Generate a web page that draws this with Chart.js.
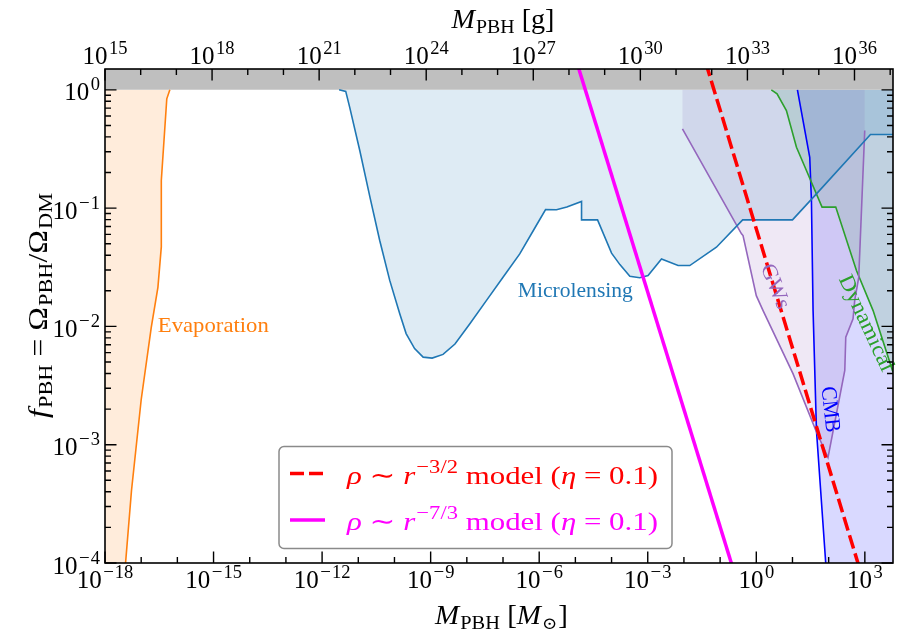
<!DOCTYPE html>
<html><head><meta charset="utf-8">
<script src="https://cdn.jsdelivr.net/npm/chart.js@4.4.0/dist/chart.umd.min.js"></script>
<style>html,body{margin:0;padding:0;background:#fff;}#wrap{width:898px;height:633px;}</style>
</head><body><div id="wrap"><canvas id="c" width="898" height="633"></canvas></div>
<script>
// ---------- data ----------
const xTicksMsun = [1e-18, 1e-15, 1e-12, 1e-9, 1e-6, 1e-3, 1, 1e3];
const xTickExpMsun = ['−18', '−15', '−12', '−9', '−6', '−3', '0', '3'];
const xTicksGram = [1e15, 1e18, 1e21, 1e24, 1e27, 1e30, 1e33, 1e36];
const xTickExpGram = ['15', '18', '21', '24', '27', '30', '33', '36'];
const yTicks = [1e-4, 1e-3, 1e-2, 1e-1, 1];
const yTickExp = ['−4', '−3', '−2', '−1', '0'];

// Evaporation bound
const evapM = [6.2e-17, 5.1e-17, 3.6e-17, 3.6e-17, 2.9e-17, 1.9e-17, 1.0e-17, 5.4e-18, 3.7e-18];
const evapF = [1, 0.84, 0.171, 0.047, 0.0214, 0.0098, 2.4e-3, 4.1e-4, 1e-4];

// Microlensing bound
const mlM = [2.95e-12, 4.5e-12, 5.8e-12, 1.1e-11, 2.1e-11, 3.9e-11, 7.4e-11, 1.4e-10, 2.1e-10, 3.6e-10,
  6.2e-10, 1.1e-9, 2.2e-9, 4.7e-9, 1.2e-8, 3.5e-8, 1.0e-7, 2.9e-7, 8.3e-7, 1.5e-6, 3.0e-6, 5.8e-6,
  1.48e-5, 1.48e-5, 4.1e-5, 1.0e-4, 1.7e-4, 3.2e-4, 6.0e-4, 1.02e-3, 2.4e-3, 6.9e-3, 0.0145, 0.079,
  0.42, 10, 46, 1430, 6000];
const mlF = [1, 0.97, 0.71, 0.307, 0.124, 0.0535, 0.0245, 0.0128, 8.7e-3, 6.5e-3,
  5.5e-3, 5.4e-3, 5.8e-3, 7.1e-3, 0.0105, 0.0166, 0.026, 0.041, 0.0713, 0.0973, 0.0968, 0.102,
  0.114, 0.0796, 0.0796, 0.0416, 0.0333, 0.0265, 0.0258, 0.0269, 0.0372, 0.0327, 0.0327, 0.0467,
  0.0796, 0.0796, 0.132, 0.419, 0.419];

// Gravitational-wave bound
const gwM = [9.1e-3, 0.39, 0.43, 1.0, 1.54, 10.4, 46, 96, 279, 297, 472, 525, 678, 993];
const gwF = [0.468, 0.0607, 0.0586, 0.0182, 0.0136, 3.97e-3, 1.28e-3, 7.8e-4, 4.24e-3, 8.1e-3, 0.0116, 0.0166, 0.026, 0.453];

// Dynamical bound
const dynM = [2.6, 3.75, 6.8, 12.9, 24.3, 65.6, 157, 586, 1690, 6000];
const dynF = [1, 0.925, 0.668, 0.327, 0.208, 0.102, 0.102, 0.0297, 0.0136, 4.1e-3];

// CMB bound
const cmbM = [13.7, 30, 33.4, 37.1, 46, 83];
const cmbF = [1, 0.269, 0.116, 0.0136, 1.32e-3, 1e-4];

// model lines
const model32M = [0.04, 700];
const model32F = [1.7, 9.2e-5];
const model73M = [1e-5, 1];
const model73F = [1.87, 2.07e-5];

const legendLabels = [
  ['ρ', ' ∼ ', 'r', '−3/2', ' model (', 'η', ' = 0.1)'],
  ['ρ', ' ∼ ', 'r', '−7/3', ' model (', 'η', ' = 0.1)']
];

// axis ranges
const X_MIN = 1e-18, X_MAX = 6e3, XG_MIN = 1e15, XG_MAX = 1.2e37, Y_MIN = 1e-4, Y_MAX = 1.5;

// ---------- helpers ----------
const SERIF = '"Liberation Serif","DejaVu Serif",serif';
const pts = (M, F) => M.map((m, i) => ({x: m, y: F[i]}));
const line = (M, F, color, w, order, extra) => Object.assign({
  data: pts(M, F), showLine: true, pointRadius: 0, borderColor: color, borderWidth: w,
  fill: false, tension: 0, order: order
}, extra || {});
const area = (points, color, order) => ({
  data: points, showLine: true, pointRadius: 0, borderWidth: 0, borderColor: 'rgba(0,0,0,0)',
  backgroundColor: color, fill: 'shape', tension: 0, order: order
});

const evapPoly = pts(evapM, evapF).concat([{x: X_MIN, y: 1e-4}, {x: X_MIN, y: 1}]);
const mlPoly = pts(mlM, mlF).concat([{x: X_MAX, y: 1}]);
const gwPoly = pts(gwM, gwF).concat([{x: gwM[gwM.length - 1], y: 1}, {x: gwM[0], y: 1}]);
const dynPoly = pts(dynM, dynF).concat([{x: X_MAX, y: 1}]);
const cmbPoly = pts(cmbM, cmbF).concat([{x: X_MAX, y: 1e-4}, {x: X_MAX, y: 1}]);
const greyPoly = [{x: 1e-19, y: 1}, {x: 1e5, y: 1}, {x: 1e5, y: 10}, {x: 1e-19, y: 10}];

// segs: [text, size, italic, dy, gapBefore]
function rich(ctx, segs, x, y, align, rot, color, baseline, targetW) {
  let w = 0; const ws = [];
  segs.forEach(s => { ctx.font = (s[2] ? 'italic ' : '') + s[1] + 'px ' + SERIF; const m = ctx.measureText(s[0]).width + (s[4] || 0); ws.push(m); w += m; });
  const sx = targetW ? targetW / w : 1;
  ctx.save(); ctx.translate(x, y); if (rot) ctx.rotate(rot * Math.PI / 180); ctx.scale(sx, 1);
  ctx.fillStyle = color; ctx.textAlign = 'left'; ctx.textBaseline = baseline || 'alphabetic';
  let cx = align === 'center' ? -w / 2 : (align === 'right' ? -w : 0);
  segs.forEach((s, i) => { ctx.font = (s[2] ? 'italic ' : '') + s[1] + 'px ' + SERIF; ctx.fillText(s[0], cx + (s[4] || 0), s[3] || 0); cx += ws[i]; });
  ctx.restore();
  return w * sx;
}

const regionText = [
  {t: 'Evaporation', x: 2.88e-17, y: 8.9e-3, rot: 0, align: 'left', c: '#ff7f0e', w: 111},
  {t: 'Microlensing', x: 2.57e-7, y: 0.0179, rot: 0, align: 'left', c: '#1f77b4', w: 115},
  {t: 'GWs', x: 3.24, y: 0.0217, rot: 68, align: 'center', c: '#9467bd', w: 47},
  {t: 'Dynamical', x: 1060, y: 0.0106, rot: 65, align: 'center', c: '#2ca02c', w: 104},
  {t: 'CMB', x: 107, y: 1.98e-3, rot: 84, align: 'center', c: '#0000ff', w: 46}
];

function powSegs(exp) {
  const segs = [['10', 25, false]];
  if (exp[0] === '−') { segs.push(['−', 19, false, -10, 1.5]); segs.push([exp.slice(1), 18.5, false, -10, 1]); }
  else segs.push([exp, 18.5, false, -10, 1.5]);
  return segs;
}

const decor = {
  id: 'decor',
  afterDraw(chart) {
    const ctx = chart.ctx, a = chart.chartArea;
    const xs = chart.scales.x, xg = chart.scales.x2, ys = chart.scales.y;
    ctx.save();
    // region labels
    regionText.forEach(r => {
      rich(ctx, [[r.t, 22, false]], xs.getPixelForValue(r.x), ys.getPixelForValue(r.y), r.align, r.rot, r.c,
        r.rot ? 'middle' : 'alphabetic', r.w);
    });
    // legend
    ctx.beginPath(); ctx.roundRect(279, 446.5, 393, 102, 5);
    ctx.fillStyle = 'rgba(255,255,255,0.85)'; ctx.fill();
    ctx.strokeStyle = '#8a8a8a'; ctx.lineWidth = 1.5; ctx.stroke();
    const legCols = ['#ff0000', '#ff00ff'];
    const legY = [484, 530], legLineY = [473.5, 520];
    legendLabels.forEach((lab, i) => {
      ctx.beginPath(); ctx.strokeStyle = legCols[i]; ctx.lineWidth = 3.5; ctx.lineCap = 'butt';
      ctx.setLineDash(i === 0 ? [14, 5] : []);
      ctx.moveTo(290, legLineY[i]); ctx.lineTo(325, legLineY[i]); ctx.stroke(); ctx.setLineDash([]);
      rich(ctx, [[lab[0], 26, true], [lab[1], 26, false], [lab[2], 26, true], [lab[3], 19, false, -11, 1],
        [lab[4], 26, false], [lab[5], 26, true], [lab[6], 26, false]], 347, legY[i], 'left', 0, legCols[i], null, 311);
    });
    // spines
    ctx.strokeStyle = '#000'; ctx.lineWidth = 1.6;
    ctx.strokeRect(a.left, a.top, a.right - a.left, a.bottom - a.top);
    // ticks
    ctx.lineWidth = 1.4; ctx.beginPath();
    const MAJ = 11.5, MIN = 6;
    for (let e = -18; e <= 3; e++) {
      const px = xs.getPixelForValue(Math.pow(10, e)); const L = (e % 3 === 0) ? MAJ : MIN;
      ctx.moveTo(px, a.bottom); ctx.lineTo(px, a.bottom - L);
    }
    for (let e = 15; e <= 37; e++) {
      const px = xg.getPixelForValue(Math.pow(10, e)); if (px > a.right + 0.5) continue; const L = (e % 3 === 0) ? MAJ : MIN;
      ctx.moveTo(px, a.top); ctx.lineTo(px, a.top + L);
    }
    for (let e = -4; e <= 0; e++) {
      for (let k = 1; k <= 9; k++) {
        const v = k * Math.pow(10, e); if (v > Y_MAX) break;
        const py = ys.getPixelForValue(v); const L = k === 1 ? MAJ : MIN;
        ctx.moveTo(a.left, py); ctx.lineTo(a.left + L, py);
        ctx.moveTo(a.right, py); ctx.lineTo(a.right - L, py);
      }
    }
    ctx.stroke();
    // tick labels
    const drawPow = (exp, x, y, align) => rich(ctx, powSegs(exp), x, y, align, 0, '#000');
    xTicksMsun.forEach((v, i) => drawPow(xTickExpMsun[i], xs.getPixelForValue(v), 588, 'center'));
    xTicksGram.forEach((v, i) => drawPow(xTickExpGram[i], xg.getPixelForValue(v), 63.5, 'center'));
    yTicks.forEach((v, i) => drawPow(yTickExp[i], 100, ys.getPixelForValue(v) + 10.5, 'right'));
    // axis titles
    rich(ctx, [['M', 27, true], ['PBH', 19, false, 5, 1], [' [', 27, false], ['M', 27, true], ['⊙', 17, false, 5, 1], [']', 27, false, 0, 1]],
      501.5, 624, 'center', 0, '#000', null, 133);
    rich(ctx, [['M', 27, true], ['PBH', 19, false, 5, 1], [' [g]', 27, false]],
      503, 28, 'center', 0, '#000', null, 103);
    rich(ctx, [['f', 27, true], ['PBH', 19, false, 5, 1], [' = Ω', 27, false], ['PBH', 19, false, 5, 1], ['/Ω', 27, false], ['DM', 19, false, 5, 1]],
      47, 305.5, 'center', -90, '#000', null, 225);
    ctx.restore();
  }
};

new Chart(document.getElementById('c'), {
  type: 'scatter',
  data: {
    datasets: [
      line(model32M, model32F, '#ff0000', 3.5, 0, {borderDash: [14, 5]}),
      line(model73M, model73F, '#ff00ff', 3.5, 1),
      line(evapM, evapF, '#ff7f0e', 1.6, 2),
      line(mlM, mlF, '#1f77b4', 1.6, 2),
      line(gwM, gwF, '#9467bd', 1.6, 2),
      line(dynM, dynF, '#2ca02c', 1.6, 2),
      line(cmbM, cmbF, '#0000ff', 1.6, 2),
      area(greyPoly, '#bfbfbf', 3),
      area(evapPoly, 'rgba(255,127,14,0.15)', 4),
      area(mlPoly, 'rgba(31,119,180,0.15)', 5),
      area(gwPoly, 'rgba(148,103,189,0.15)', 6),
      area(dynPoly, 'rgba(44,160,44,0.15)', 7),
      area(cmbPoly, 'rgba(0,0,255,0.15)', 8)
    ]
  },
  options: {
    responsive: false, animation: false, devicePixelRatio: 1,
    layout: {padding: {left: 105, right: 5, top: 69, bottom: 70}},
    plugins: {legend: {display: false}, tooltip: {enabled: false}},
    scales: {
      x: {type: 'logarithmic', position: 'bottom', min: X_MIN, max: X_MAX, display: false},
      x2: {type: 'logarithmic', position: 'top', min: XG_MIN, max: XG_MAX, display: false},
      y: {type: 'logarithmic', min: Y_MIN, max: Y_MAX, display: false}
    }
  },
  plugins: [decor]
});
</script></body></html>
